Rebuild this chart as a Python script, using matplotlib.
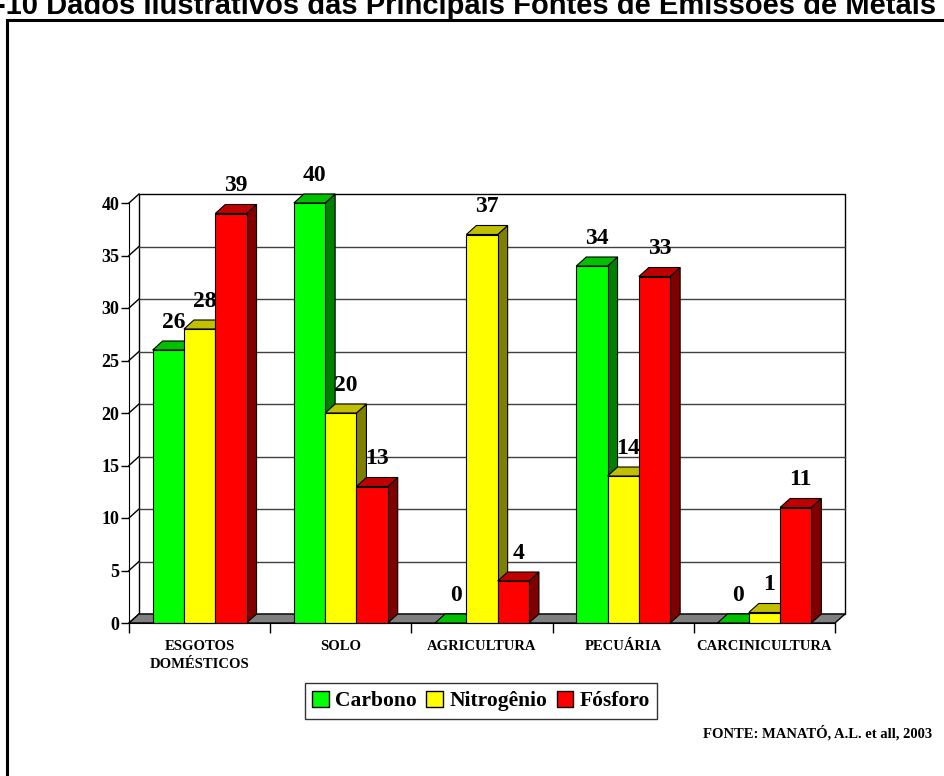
import matplotlib
matplotlib.use("Agg")
import matplotlib.pyplot as plt
from matplotlib.patches import Polygon, Rectangle, Patch

# data
categories = ["ESGOTOS\nDOMÉSTICOS", "SOLO", "AGRICULTURA", "PECUÁRIA", "CARCINICULTURA"]
series_names = ["Carbono", "Nitrogênio", "Fósforo"]
carbono = [26, 40, 0, 34, 0]
nitrogenio = [28, 20, 37, 14, 1]
fosforo = [39, 13, 4, 33, 11]
yticks = [0, 5, 10, 15, 20, 25, 30, 35, 40]

values = [carbono, nitrogenio, fosforo]
front = ["#00FF00", "#FFFF00", "#FF0000"]
top = ["#00C000", "#C0C000", "#C00000"]
side = ["#008000", "#808000", "#800000"]

serif = "Liberation Serif"
W, H = 945, 776
fig = plt.figure(figsize=(W / 100, H / 100), dpi=100)

# axes placed in pixels: front axis x=129, y(0)=623, y(40)=203, right end 835
ax = fig.add_axes([129 / W, (H - 623) / H, (835 - 129) / W, (623 - 203) / H])
ax.set_xlim(-0.5, 4.5)
ax.set_ylim(0, 40)
ax.patch.set_alpha(0)

dx = 10 / 141.2   # depth offset in category units
dy = 9 / 10.5     # depth offset in value units
ymax = yticks[-1]
x0, x1 = -0.5, len(categories) - 0.5

# back wall
ax.add_patch(Rectangle((x0 + dx, dy), x1 - x0, ymax, facecolor="white",
                       edgecolor="black", lw=1.0, zorder=1, clip_on=False))
for t in yticks[1:-1]:
    ax.plot([x0 + dx, x1 + dx], [t + dy, t + dy], color="#404040", lw=1.0,
            zorder=1.1, clip_on=False)
# side wall diagonals
for t in yticks:
    ax.plot([x0, x0 + dx], [t, t + dy], color="black", lw=1.0, zorder=1.1,
            clip_on=False)
# floor
ax.add_patch(Polygon([(x0, 0), (x1, 0), (x1 + dx, dy), (x0 + dx, dy)],
                     closed=True, facecolor="#808080", edgecolor="black",
                     lw=1.0, zorder=1.2, clip_on=False))

bw = 31.3 / 141.2
for i in range(len(categories)):
    for s in range(3):
        v = values[s][i]
        left = i + (s - 1.5) * bw
        z = 2 + i * 0.1 + s * 0.01
        kw = dict(closed=True, edgecolor="black", lw=0.8, zorder=z, clip_on=False)
        ax.add_patch(Polygon([(left + bw, 0), (left + bw + dx, dy),
                              (left + bw + dx, v + dy), (left + bw, v)],
                             facecolor=side[s], **kw))
        ax.add_patch(Polygon([(left, v), (left + bw, v), (left + bw + dx, v + dy),
                              (left + dx, v + dy)], facecolor=top[s], **kw))
        if v > 0:
            ax.add_patch(Polygon([(left, 0), (left + bw, 0), (left + bw, v),
                                  (left, v)], facecolor=front[s], **kw))
        ax.text(left + bw / 2 + dx / 2, v + dy + 0.8, str(v), ha="center",
                va="bottom", family=serif, fontweight="bold", fontsize=17,
                zorder=5)

for sp in ["top", "right"]:
    ax.spines[sp].set_visible(False)
ax.spines["left"].set_zorder(3)
ax.spines["bottom"].set_zorder(3)
ax.set_yticks(yticks)
ax.set_yticklabels([str(t) for t in yticks], family=serif, fontweight="bold",
                   fontsize=13)
ax.tick_params(axis="y", length=6, width=1, pad=1)
ax.set_xticks(range(len(categories)))
ax.set_xticklabels(categories, family=serif, fontweight="bold", fontsize=10.5,
                   linespacing=1.5)
ax.set_xticks([k - 0.5 for k in range(len(categories) + 1)], minor=True)
ax.tick_params(axis="x", which="major", length=0, pad=12)
ax.tick_params(axis="x", which="minor", length=7, width=1)

handles = [Patch(facecolor=front[s], edgecolor="black", lw=1.0) for s in range(3)]
leg = fig.legend(handles, series_names, loc="center", bbox_to_anchor=(481 / W, (H - 701) / H),
                 ncol=3, frameon=True, fancybox=False, edgecolor="black",
                 handlelength=0.75, handleheight=0.75, handletextpad=0.3,
                 columnspacing=0.45, borderpad=0.35,
                 prop={"family": serif, "weight": "bold", "size": 15.5})
leg.get_frame().set_linewidth(1.0)

fig.text(932 / W, (H - 733) / H, "FONTE: MANATÓ, A.L. et all, 2003", ha="right",
         va="center", family=serif, fontweight="bold", fontsize=10.5)

# outer frame (runs off the right and bottom edges)
fig.patches.append(Rectangle((7 / W, -0.05), 1.1, 1.05 - 20 / H, transform=fig.transFigure,
                             facecolor="none", edgecolor="black", lw=2.2))

# title, cut off at the top edge
fig.text(-4 / W, 1 - 14 / H, "-10 Dados Ilustrativos das Principais Fontes de Emissões de Metais Pesados",
         ha="left", va="baseline", family="Liberation Sans", fontweight="bold",
         fontsize=21)

fig.savefig("out.png", dpi=100)
